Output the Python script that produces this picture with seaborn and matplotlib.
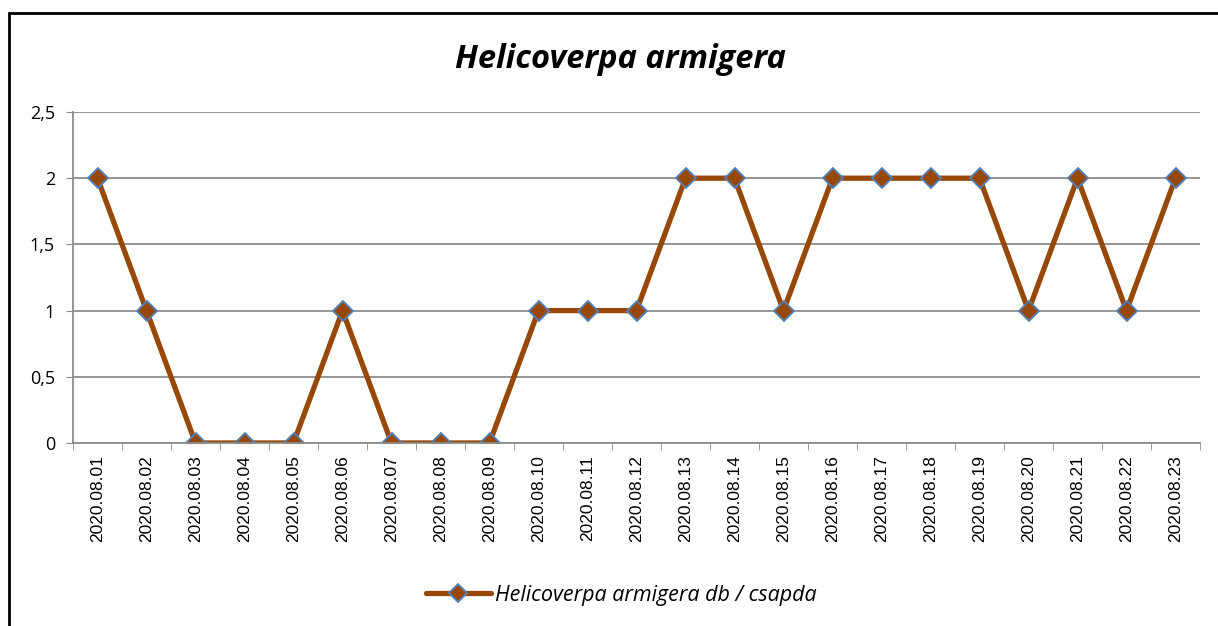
import numpy as np
import pandas as pd
import matplotlib
matplotlib.use('Agg')
import matplotlib.pyplot as plt
from matplotlib.lines import Line2D
import seaborn as sns

# adatok
DATES = ['2020.08.%02d' % d for d in range(1, 24)]
COUNTS = [2, 1, 0, 0, 0, 1, 0, 0, 0, 1, 1, 1, 2, 2, 1, 2, 2, 2, 2, 1, 2, 1, 2]
Y_TICKS = [0, 0.5, 1, 1.5, 2, 2.5]
Y_LABELS = ['0', '0,5', '1', '1,5', '2', '2,5']
TITLE = 'Helicoverpa armigera'
SERIES = 'Helicoverpa armigera db / csapda'

LINE_COLOR = '#974706'
EDGE_COLOR = '#4F81BD'
GRID_COLOR = '#8c8c8c'

sns.set_style('white')
plt.rcParams['font.family'] = ['Open Sans', 'DejaVu Sans']
plt.rcParams['text.color'] = 'black'
plt.rcParams['xtick.color'] = 'black'
plt.rcParams['ytick.color'] = 'black'

df = pd.DataFrame({'date': DATES, 'count': COUNTS})

fig = plt.figure(figsize=(12.18, 6.26), dpi=100)
ax = fig.add_axes([73 / 1218, 1 - 443 / 626, (1200 - 73) / 1218, (443 - 112) / 626])

sns.lineplot(data=df, x='date', y='count', ax=ax, sort=False,
             color=LINE_COLOR, linewidth=3.8, marker='D', markersize=10,
             markerfacecolor=LINE_COLOR, markeredgecolor=EDGE_COLOR,
             markeredgewidth=1.3)

ax.set_xlim(-0.5, len(DATES) - 0.5)
ax.set_ylim(0, 2.5)
ax.set_yticks(Y_TICKS)
ax.set_yticklabels(Y_LABELS, fontsize=13)
ax.set_xticks(range(len(DATES)))
ax.set_xticklabels(DATES, rotation=90, fontsize=12.5, family='Liberation Sans')
ax.set_xticks(np.arange(-0.5, len(DATES), 1), minor=True)
ax.tick_params(axis='x', which='major', length=0, pad=9)
ax.tick_params(axis='x', which='minor', length=5, color=GRID_COLOR, direction='out', bottom=True)
ax.tick_params(axis='y', length=5, color=GRID_COLOR, labelcolor='black', direction='out', left=True, pad=8)
ax.set_xlabel('')
ax.set_ylabel('')
ax.grid(axis='y', color=GRID_COLOR, linewidth=1.3)
for s in ['top', 'right']:
    ax.spines[s].set_visible(False)
for s in ['left', 'bottom']:
    ax.spines[s].set_color(GRID_COLOR)
    ax.spines[s].set_linewidth(1.3)

fig.text(0.509, 1 - 60 / 626, TITLE, ha='center', va='center', color='black',
         fontsize=23.5, fontweight='bold', fontstyle='italic')

handle = Line2D([], [], color=LINE_COLOR, linewidth=3.8, marker='D', markersize=9,
                markerfacecolor=LINE_COLOR, markeredgecolor=EDGE_COLOR, markeredgewidth=1.3)
leg = fig.legend([handle], [SERIES], loc='center', bbox_to_anchor=(0.51, 1 - 595 / 626),
                 frameon=False, handlelength=3.0, handletextpad=0.2,
                 prop={'size': 15.5, 'style': 'italic'})
for t in leg.get_texts():
    t.set_color('black')

# keret
fig.add_artist(Line2D([9 / 1218, 9 / 1218], [0, 1 - 13 / 626], color='black', linewidth=2,
                      transform=fig.transFigure))
fig.add_artist(Line2D([9 / 1218, 1.01], [1 - 13 / 626, 1 - 13 / 626], color='black', linewidth=2,
                      transform=fig.transFigure))

fig.savefig('out.png', dpi=100)
